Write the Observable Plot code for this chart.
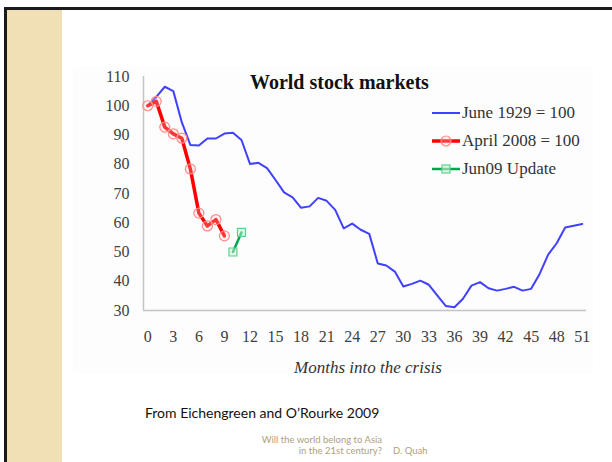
<!DOCTYPE html>
<html>
<head>
<meta charset="utf-8">
<script src="https://cdn.jsdelivr.net/npm/d3@7"></script>
<script src="https://cdn.jsdelivr.net/npm/@observablehq/plot@0.6"></script>
<style>
  html, body { margin: 0; padding: 0; background: #ffffff; }
  #slide { position: relative; width: 612px; height: 462px; overflow: hidden; background: #ffffff; }
  .abs { position: absolute; white-space: nowrap; }
  #chart { position: absolute; left: 73px; top: 66px; }
</style>
</head>
<body>
<div id="slide">
  <div class="abs" style="left:5px; top:7px; width:607px; height:3px; background:#1a1a1a;"></div>
  <div class="abs" style="left:4px; top:7px; width:3px; height:455px; background:#1a1a1a;"></div>
  <div class="abs" style="left:7px; top:10px; width:55px; height:452px; background:#f1dfb6;"></div>
  <div id="chart"></div>
  <div class="abs" id="title" style="left:250px; top:71px; font-family:'Liberation Serif', serif; font-weight:bold; font-size:20px; color:#111;">World stock markets</div>
  <div id="legend"></div>
  <div class="abs" style="left:0; width:736px; top:358px; text-align:center; font-family:'Liberation Serif', serif; font-style:italic; font-size:17px; color:#333;">Months into the crisis</div>
  <div class="abs" style="left:145px; top:404px; font-family:'Lato', sans-serif; font-size:14px; color:#111;">From Eichengreen and O’Rourke 2009</div>
  <div class="abs" style="right:230px; top:434px; text-align:right; font-family:'Lato', sans-serif; font-size:9.5px; line-height:11px; color:#ad9f7e;">Will the world belong to Asia<br>in the 21st century?</div>
  <div class="abs" style="left:393px; top:445px; font-family:'Lato', sans-serif; font-size:9.5px; line-height:11px; color:#ad9f7e;">D. Quah</div>
</div>
<script>
// ---- data ----
const months1929 = [0,1,2,3,4,5,6,7,8,9,10,11,12,13,14,15,16,17,18,19,20,21,22,23,24,25,26,27,28,29,30,31,32,33,34,35,36,37,38,39,40,41,42,43,44,45,46,47,48,49,50,51];
const june1929 = [100,103,106.5,105,94.3,86.6,86.4,88.8,88.8,90.5,
                  90.8,88.3,80.1,80.5,78.7,74.6,70.4,68.7,65.1,65.6,
                  68.5,67.5,64.4,58.1,59.7,57.6,56.2,46.1,45.4,43.3,
                  38.2,39.1,40.2,38.8,35.1,31.5,31.1,34.0,38.5,39.7,
                  37.6,36.8,37.4,38.1,36.8,37.4,42.5,49.1,53.0,58.4,
                  59.0,59.6];
const months2008 = [0,1,2,3,4,5,6,7,8,9];
const april2008 = [100,101.5,92.7,90.4,88.9,78.4,63.3,58.9,61.1,55.5];
const monthsJun09 = [10,11];
const jun09Update = [50,56.7];
const xTicks = [0,3,6,9,12,15,18,21,24,27,30,33,36,39,42,45,48,51];
const yTicks = [30,40,50,60,70,80,90,100,110];
const seriesNames = ["June 1929 = 100", "April 2008 = 100", "Jun09 Update"];

const blue = months1929.map((m, i) => ({m, v: june1929[i]}));
const red = months2008.map((m, i) => ({m, v: april2008[i]}));
const green = monthsJun09.map((m, i) => ({m, v: jun09Update[i]}));

const BLUE = "#4040ff", RED = "#ff0000", GREEN = "#00a550";

const chart = Plot.plot({
  width: 520,
  height: 308,
  marginLeft: 70,
  marginRight: 7,
  marginTop: 10,
  marginBottom: 64,
  style: {fontFamily: "'Liberation Serif', serif", fontSize: "16px", color: "#404040", background: "#fdfdfd"},
  x: {domain: [-0.5, 51.5]},
  y: {domain: [30, 110]},
  marks: [
    Plot.ruleY([30], {stroke: "#c4c4c4", strokeWidth: 1.5}),
    Plot.ruleX([-0.5], {y1: 30, y2: 110, stroke: "#c4c4c4", strokeWidth: 1.5}),
    Plot.axisY({ticks: yTicks, tickSize: 0, tickPadding: 14, label: null}),
    Plot.axisX({ticks: xTicks, tickSize: 0, tickPadding: 20, label: null}),
    Plot.line(blue, {x: "m", y: "v", stroke: BLUE, strokeWidth: 2}),
    Plot.line(red, {x: "m", y: "v", stroke: RED, strokeWidth: 3.5}),
    Plot.dot(red, {x: "m", y: "v", r: 5, stroke: "#ff8a8a", strokeWidth: 1.2, fill: "#ffd0d0", fillOpacity: 0.25}),
    Plot.line(green, {x: "m", y: "v", stroke: GREEN, strokeWidth: 2.5}),
    Plot.dot(green, {x: "m", y: "v", symbol: "square", r: 4.5, stroke: "#5fcf8c", strokeWidth: 1.2, fill: "#c8f0d8", fillOpacity: 0.5})
  ]
});
document.getElementById("chart").appendChild(chart);

// ---- legend (HTML with inline swatches) ----
const legend = document.getElementById("legend");
const swatches = [
  {stroke: BLUE, w: 2, marker: null},
  {stroke: RED, w: 3.5, marker: "circle"},
  {stroke: GREEN, w: 2.5, marker: "square"}
];
seriesNames.forEach((name, i) => {
  const row = document.createElement("div");
  row.className = "abs";
  row.style.left = "431px";
  row.style.top = (103 + i * 28) + "px";
  row.style.height = "20px";
  row.style.display = "flex";
  row.style.alignItems = "center";
  const s = swatches[i];
  let mk = "";
  if (s.marker === "circle") mk = `<circle cx="15" cy="10" r="5" fill="#ffd0d0" fill-opacity="0.3" stroke="#ff8a8a" stroke-width="1.2"/>`;
  if (s.marker === "square") mk = `<rect x="11" y="6" width="8" height="8" fill="#c8f0d8" fill-opacity="0.6" stroke="#5fcf8c" stroke-width="1.2"/>`;
  row.innerHTML = `<svg width="30" height="20"><line x1="1" x2="29" y1="10" y2="10" stroke="${s.stroke}" stroke-width="${s.w}"/>${mk}</svg>` +
    `<span style="font-family:'Liberation Serif', serif; font-size:17px; color:#333; margin-left:1px;">${name}</span>`;
  legend.appendChild(row);
});
</script>
</body>
</html>
